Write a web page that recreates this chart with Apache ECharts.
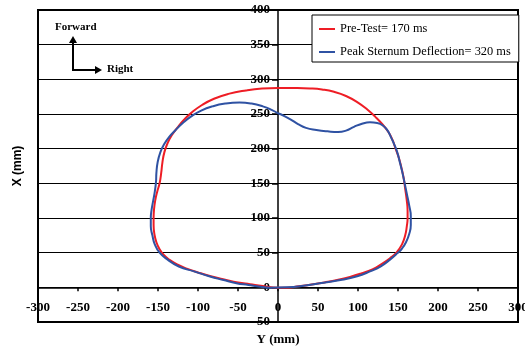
<!DOCTYPE html>
<html>
<head>
<meta charset="utf-8">
<script src="https://cdn.jsdelivr.net/npm/echarts@6/dist/echarts.min.js"></script>
<style>
  html, body { margin: 0; padding: 0; background: #fff; }
  #chart { width: 525px; height: 347px; }
</style>
</head>
<body>
<div id="chart"></div>
<script>
// chest contour, lateral (Y) vs forward (X), in mm, traced clockwise from the top
var preTestY = [0, 20, 40, 55, 70, 85, 100, 112, 122, 131, 138, 143, 147, 151, 154, 157, 159, 161, 162, 162, 161, 159, 155, 148, 140, 130, 118, 104, 90, 74, 58, 42, 26, 12, 0, -19, -35, -50, -66, -84, -100, -114, -126, -136, -143, -148, -152, -154.5, -155.5, -155.5, -155, -153.5, -151, -148, -146, -144.5, -142, -138, -133, -126, -118, -108, -95, -80, -62, -40, -20, 0];
var preTestX = [287.5, 287.4, 286.8, 285.3, 282, 276, 266.5, 256, 245.5, 234.5, 224, 213, 200, 187, 174, 158, 142, 125, 110, 100, 88, 75, 62, 50, 42, 34, 26, 20, 15, 10.5, 7, 4, 1.5, -0.5, -0.5, 1.9, 4.5, 7, 11, 16, 21.5, 27, 33, 40, 47, 55, 65, 77, 90, 100, 112, 125, 138, 150, 165, 180, 195, 208, 219, 230, 241, 252, 263, 272, 279, 284, 286.7, 287.5];

var peakY = [0, 8, 16, 25, 35, 48, 62, 75, 85, 95, 105, 115, 124, 131, 137, 141, 145, 149, 152, 155, 158, 161, 164, 166, 166, 164, 160, 155, 149, 140, 128, 115, 99, 80, 57, 30, 10, -10, -22, -37, -52, -68, -86, -105, -124, -138, -148, -154, -157, -159, -159, -158, -156, -154, -152.5, -152, -150.5, -147, -142, -136, -128, -119, -108, -96, -82, -66, -48, -33, -19, -8, 0];
var peakX = [251, 247, 242, 235.5, 230, 227, 225, 224, 226, 231.5, 236, 238, 237, 233.5, 226, 217, 207, 195, 182, 168, 152, 135, 118, 103, 90, 77, 65, 56, 49, 40, 30, 23, 16, 11, 6.7, 2, 0, -0.5, 1, 3.5, 6, 10.5, 16, 23, 30, 40, 50, 62, 75, 88, 100, 112, 125, 138, 152, 165, 180, 195, 207, 217, 227, 237, 247, 255, 261, 265, 266.5, 265, 261, 256, 251];

var seriesNames = ['Pre-Test= 170 ms', 'Peak Sternum Deflection= 320 ms'];
var seriesColors = ['#ee1d25', '#2f52a3'];

function pairs(xs, ys) {
  return xs.map(function (v, i) { return [v, ys[i]]; });
}

var chart = echarts.init(document.getElementById('chart'));
var tickFont = { fontFamily: 'Liberation Serif', fontSize: 13, fontWeight: 'bold', color: '#000' };

chart.setOption({
  animation: false,
  backgroundColor: '#fff',
  grid: {
    left: 38, right: 7, top: 10, bottom: 25,
    containLabel: false, outerBoundsMode: 'none',
    show: true, borderColor: '#000', borderWidth: 2, backgroundColor: 'transparent'
  },
  legend: {
    orient: 'vertical',
    left: 312, top: 15,
    padding: [7, 8, 3, 7],
    itemGap: 9,
    itemWidth: 16, itemHeight: 2,
    icon: 'rect',
    backgroundColor: '#fff',
    borderColor: '#000', borderWidth: 1,
    textStyle: { fontFamily: 'Liberation Serif', fontSize: 12.4, color: '#000', lineHeight: 14 },
    data: seriesNames
  },
  xAxis: {
    type: 'value',
    min: -300, max: 300, interval: 50,
    name: 'Y (mm)', nameLocation: 'middle', nameGap: 11,
    nameTextStyle: { fontFamily: 'Liberation Serif', fontSize: 13, fontWeight: 'bold', color: '#000' },
    axisLine: { onZero: true, lineStyle: { color: '#000', width: 1.5 } },
    axisTick: { show: true, length: 4, lineStyle: { color: '#000', width: 1.5 } },
    // labels sit just under the zero line, not at the grid bottom
    axisLabel: Object.assign({ margin: -21, hideOverlap: false }, tickFont),
    splitLine: { show: false }
  },
  yAxis: {
    type: 'value',
    min: -50, max: 400, interval: 50,
    name: 'X (mm)', nameLocation: 'middle', nameGap: 14, nameRotate: 90,
    nameTextStyle: { fontFamily: 'Liberation Sans', fontSize: 12, fontWeight: 'bold', color: '#000' },
    axisLine: { onZero: true, lineStyle: { color: '#000', width: 1.5 } },
    axisTick: { show: true, length: 6, lineStyle: { color: '#000', width: 1.5 } },
    // labels sit just left of the x = 0 line
    axisLabel: Object.assign({ margin: -232, hideOverlap: false }, tickFont),
    splitLine: { show: true, lineStyle: { color: '#000', width: 1.2 } }
  },
  graphic: [
    { type: 'text', left: 55, top: 22, style: { text: 'Forward', font: 'bold 11px "Liberation Serif"', fill: '#000' } },
    { type: 'line', shape: { x1: 73, y1: 70, x2: 73, y2: 42 }, style: { stroke: '#000', lineWidth: 2 } },
    { type: 'polygon', shape: { points: [[69, 43], [77, 43], [73, 36]] }, style: { fill: '#000' } },
    { type: 'line', shape: { x1: 72, y1: 70, x2: 96, y2: 70 }, style: { stroke: '#000', lineWidth: 2 } },
    { type: 'polygon', shape: { points: [[95, 66], [95, 74], [102, 70]] }, style: { fill: '#000' } },
    { type: 'text', left: 107, top: 64, style: { text: 'Right', font: 'bold 11px "Liberation Serif"', fill: '#000' } }
  ],
  series: [
    {
      name: seriesNames[0], type: 'line', smooth: 0.5, symbol: 'none',
      color: seriesColors[0], lineStyle: { width: 2, color: seriesColors[0] },
      data: pairs(preTestY, preTestX), z: 3
    },
    {
      name: seriesNames[1], type: 'line', smooth: 0.5, symbol: 'none',
      color: seriesColors[1], lineStyle: { width: 2, color: seriesColors[1] },
      data: pairs(peakY, peakX), z: 4
    }
  ]
});
</script>
</body>
</html>
